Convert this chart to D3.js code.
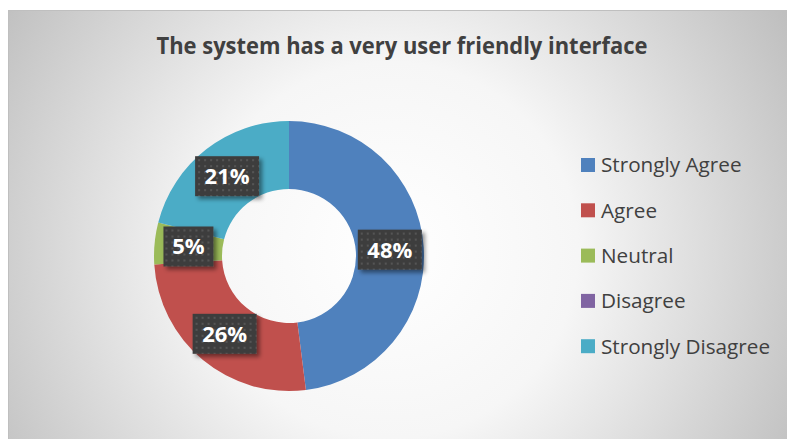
<!DOCTYPE html>
<html>
<head>
<meta charset="utf-8">
<script src="https://cdn.jsdelivr.net/npm/d3@7"></script>
<style>
  body { margin: 0; background: #fff; }
  svg text { font-family: "Open Sans", "Liberation Sans", sans-serif; }
</style>
</head>
<body>
<div id="chart"></div>
<script>
// data
var categories = ["Strongly Agree", "Agree", "Neutral", "Disagree", "Strongly Disagree"];
var values = [48, 26, 5, 0, 21];
var colors = ["#4f81bd", "#c0504d", "#9bbb59", "#8064a2", "#4bacc6"];
var title = "The system has a very user friendly interface";

var width = 787, height = 439;

var svg = d3.select("#chart")
  .append("svg")
    .attr("width", width)
    .attr("height", height);

var defs = svg.append("defs");

// background gradient: white centre, grey edges
var grad = defs.append("radialGradient")
    .attr("id", "bg")
    .attr("gradientUnits", "userSpaceOnUse")
    .attr("cx", 390).attr("cy", 250).attr("r", 470);
grad.append("stop").attr("offset", "0%").attr("stop-color", "#ffffff");
grad.append("stop").attr("offset", "40%").attr("stop-color", "#f6f6f6");
grad.append("stop").attr("offset", "100%").attr("stop-color", "#bdbdbd");

// dotted label box fill
var pat = defs.append("pattern")
    .attr("id", "dots")
    .attr("patternUnits", "userSpaceOnUse")
    .attr("width", 6).attr("height", 6);
pat.append("rect").attr("width", 6).attr("height", 6).attr("fill", "#3e3e3e");
pat.append("rect").attr("x", 1).attr("y", 1).attr("width", 2).attr("height", 2).attr("fill", "#555");

var shadow = defs.append("filter").attr("id", "shadow")
    .attr("x", "-20%").attr("y", "-20%").attr("width", "150%").attr("height", "160%");
shadow.append("feDropShadow")
    .attr("dx", 3).attr("dy", 3).attr("stdDeviation", 2)
    .attr("flood-color", "#000").attr("flood-opacity", 0.45);

svg.append("rect")
    .attr("x", 8.5).attr("y", 10.5)
    .attr("width", width).attr("height", height)
    .attr("fill", "url(#bg)")
    .attr("stroke", "#bfbfbf");

// title
svg.append("text")
    .attr("x", 402).attr("y", 54)
    .attr("text-anchor", "middle")
    .attr("font-size", 22.5)
    .attr("font-weight", "bold")
    .attr("fill", "#404040")
    .attr("textLength", 491)
    .attr("lengthAdjust", "spacingAndGlyphs")
    .text(title);

// donut
var cx = 289, cy = 256, outerR = 135, innerR = 67;

var data = categories.map(function(c, i) { return {name: c, value: values[i], color: colors[i]}; });

var pie = d3.pie()
    .sort(null)
    .value(function(d) { return d.value; });

var arc = d3.arc()
    .innerRadius(innerR)
    .outerRadius(outerR);

var labelArc = d3.arc()
    .innerRadius((innerR + outerR) / 2)
    .outerRadius((innerR + outerR) / 2);

var g = svg.append("g")
    .attr("transform", "translate(" + cx + "," + cy + ")");

var arcs = pie(data);

g.selectAll("path")
  .data(arcs)
  .enter()
  .append("path")
    .attr("d", arc)
    .attr("fill", function(d) { return d.data.color; });

var labels = g.selectAll("g.lbl")
  .data(arcs.filter(function(d) { return d.data.value > 0; }))
  .enter()
  .append("g")
    .attr("class", "lbl")
    .attr("transform", function(d) { return "translate(" + labelArc.centroid(d) + ")"; });

labels.append("rect")
    .attr("x", function(d) { return d.data.value < 10 ? -25 : -32; })
    .attr("y", -20)
    .attr("width", function(d) { return d.data.value < 10 ? 50 : 64; })
    .attr("height", 40)
    .attr("fill", "url(#dots)")
    .attr("filter", "url(#shadow)");

labels.append("text")
    .attr("text-anchor", "middle")
    .attr("dy", "0.36em")
    .attr("font-size", 22)
    .attr("font-weight", "bold")
    .attr("fill", "#ffffff")
    .text(function(d) { return d.data.value + "%"; });

// legend
var legend = svg.append("g")
    .attr("transform", "translate(581,165)");

var item = legend.selectAll("g")
  .data(data)
  .enter()
  .append("g")
    .attr("transform", function(d, i) { return "translate(0," + (i * 45.3) + ")"; });

item.append("rect")
    .attr("x", 0).attr("y", -7)
    .attr("width", 14).attr("height", 14)
    .attr("fill", function(d) { return d.color; });

item.append("text")
    .attr("x", 20)
    .attr("dy", "0.36em")
    .attr("font-size", 20.7)
    .attr("fill", "#404040")
    .text(function(d) { return d.name; });
</script>
</body>
</html>
